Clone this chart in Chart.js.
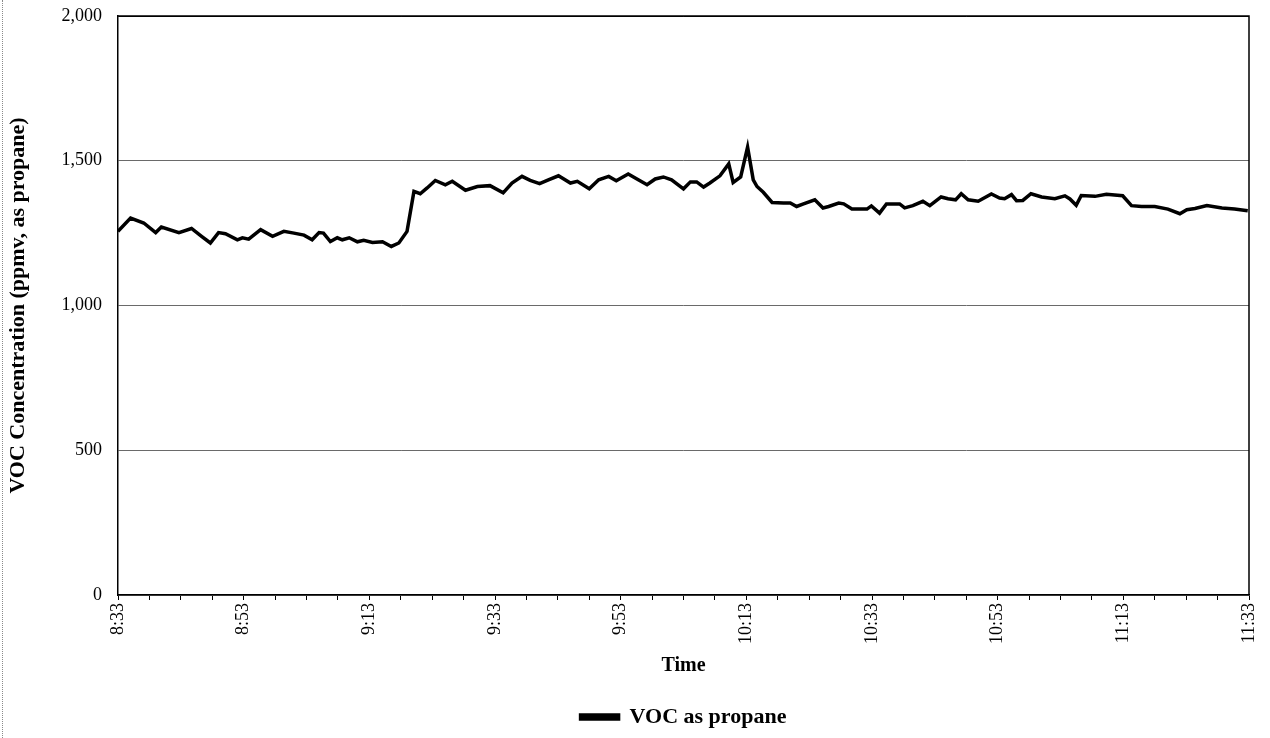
<!DOCTYPE html>
<html>
<head>
<meta charset="utf-8">
<script src="https://cdn.jsdelivr.net/npm/chart.js@4.4.1/dist/chart.umd.min.js"></script>
<style>
  html, body { margin: 0; padding: 0; background: #fff; }
  #wrap { position: relative; width: 1270px; height: 738px; }
  #wrap::before { content: ''; position: absolute; left: 2px; top: 0; bottom: 0; border-left: 1px dotted #8a8a8a; }
  canvas { display: block; }
</style>
</head>
<body>
<div id="wrap"><canvas id="voc" width="1270" height="738"></canvas></div>
<script>
// Elapsed minutes after 8:33 for each reading
const minutesAfterStart = [
  0.0, 2.0, 4.1, 6.0, 6.9, 9.7, 11.7, 13.3, 14.7, 16.0,
  17.1, 19.0, 19.8, 20.8, 22.7, 24.6, 26.4, 28.0, 29.6, 30.9,
  32.0, 32.7, 33.8, 34.9, 35.7, 36.8, 38.1, 39.1, 40.5, 42.1,
  43.5, 44.7, 46.0, 47.1, 48.1, 49.2, 50.5, 52.1, 53.2, 55.3,
  57.2, 59.2, 61.3, 62.7, 64.3, 65.6, 67.1, 68.5, 70.1, 72.0,
  73.1, 75.0, 76.5, 78.1, 79.3, 81.2, 82.8, 84.2, 85.5, 86.8,
  88.1, 90.0, 91.1, 92.1, 93.2, 94.2, 95.8, 97.2, 97.9, 99.1,
  100.2, 101.1, 101.7, 102.7, 104.1, 105.9, 107.0, 108.0, 109.1, 110.9,
  112.2, 113.1, 114.7, 115.5, 116.8, 119.2, 119.9, 121.2, 122.3, 124.4,
  125.2, 126.5, 128.1, 129.2, 131.0, 132.1, 133.3, 134.2, 135.3, 136.9,
  139.0, 140.3, 141.1, 142.2, 143.0, 144.0, 145.3, 147.0, 149.1, 150.7,
  151.5, 152.5, 153.3, 155.5, 157.3, 159.9, 161.3, 162.9, 165.0, 167.1,
  169.0, 170.1, 171.4, 173.3, 175.7, 177.7, 179.8
];

// VOC concentration, ppmv as propane
const vocPpmv = [
  1256, 1302, 1285, 1252, 1271, 1252, 1266, 1239, 1216, 1252,
  1248, 1227, 1234, 1229, 1262, 1239, 1256, 1250, 1243, 1227,
  1252, 1250, 1221, 1234, 1227, 1234, 1220, 1225, 1218, 1220,
  1204, 1216, 1256, 1394, 1386, 1406, 1432, 1417, 1429, 1398,
  1411, 1414, 1389, 1423, 1446, 1432, 1421, 1434, 1448, 1423,
  1429, 1403, 1434, 1446, 1431, 1454, 1434, 1417, 1437, 1444,
  1434, 1403, 1427, 1427, 1409, 1423, 1448, 1489, 1425, 1444,
  1547, 1434, 1411, 1391, 1356, 1354, 1354, 1342, 1351, 1365,
  1337, 1342, 1354, 1351, 1333, 1333, 1344, 1319, 1351, 1351,
  1337, 1345, 1360, 1345, 1375, 1369, 1365, 1386, 1365, 1360,
  1385, 1371, 1369, 1383, 1362, 1363, 1386, 1375, 1369, 1379,
  1368, 1346, 1380, 1377, 1384, 1379, 1345, 1342, 1342, 1333,
  1317, 1331, 1335, 1345, 1337, 1333, 1327
];

// Labelled clock times, one every 20 minutes
const timeTickLabels = ['8:33', '8:53', '9:13', '9:33', '9:53', '10:13', '10:33', '10:53', '11:13', '11:33'];
const yTickValues = [0, 500, 1000, 1500, 2000];
const seriesName = 'VOC as propane';

const serif = '"Liberation Serif", "Times New Roman", serif';

// Closes the plot box along the top and right edges
const plotFrame = {
  id: 'plotFrame',
  afterDraw(chart) {
    const { ctx, chartArea: a } = chart;
    ctx.save();
    ctx.strokeStyle = '#000';
    ctx.lineWidth = 1.5;
    ctx.beginPath();
    ctx.moveTo(a.left, a.top);
    ctx.lineTo(a.right, a.top);
    ctx.lineTo(a.right, a.bottom);
    ctx.stroke();
    ctx.restore();
  }
};

new Chart(document.getElementById('voc'), {
  type: 'line',
  data: {
    datasets: [{
      label: seriesName,
      data: minutesAfterStart.map((m, i) => ({ x: m, y: vocPpmv[i] })),
      borderColor: '#000',
      backgroundColor: '#000',
      borderWidth: 3.5,
      pointRadius: 0,
      tension: 0,
      fill: false
    }]
  },
  options: {
    responsive: false,
    animation: false,
    devicePixelRatio: 1,
    layout: { padding: { top: 16, right: 21, left: 0, bottom: 0 } },
    plugins: {
      legend: {
        position: 'bottom',
        fullSize: false,
        labels: {
          boxWidth: 38,
          boxHeight: 4,
          padding: 7,
          color: '#000',
          font: { family: serif, size: 22, weight: 'bold' }
        }
      },
      tooltip: { enabled: false }
    },
    scales: {
      x: {
        type: 'linear',
        min: 0,
        max: 180,
        afterFit(scale) {
          scale.height = 104;
          scale.paddingLeft = 0;
          scale.paddingRight = 0;
        },
        ticks: {
          stepSize: 5,
          autoSkip: false,
          maxRotation: 90,
          minRotation: 90,
          padding: 3,
          color: '#000',
          font: { family: serif, size: 18 },
          callback: v => (v % 20 === 0 ? timeTickLabels[v / 20] : '')
        },
        grid: { drawOnChartArea: false, drawTicks: true, tickLength: 5, color: '#000' },
        border: { color: '#000', width: 1.5 },
        title: {
          display: true,
          text: 'Time',
          color: '#000',
          font: { family: serif, size: 20, weight: 'bold' },
          padding: { top: 0, bottom: 21 }
        }
      },
      y: {
        min: 0,
        max: 2000,
        afterFit(scale) {
          scale.width = 118;
          scale.paddingTop = 0;
          scale.paddingBottom = 0;
        },
        afterBuildTicks(scale) { scale.ticks = yTickValues.map(v => ({ value: v })); },
        ticks: {
          padding: 16,
          color: '#000',
          font: { family: serif, size: 18 },
          callback: v => v.toLocaleString('en-US')
        },
        grid: {
          drawTicks: false,
          color: ctx => (ctx.tick && ctx.tick.value === 2000 ? '#000' : '#6a6a6a'),
          lineWidth: 1
        },
        border: { color: '#000', width: 1.5 },
        title: {
          display: true,
          text: 'VOC Concentration (ppmv, as propane)',
          color: '#000',
          font: { family: serif, size: 22, weight: 'bold' },
          padding: { top: 5, bottom: 0 }
        }
      }
    }
  },
  plugins: [plotFrame]
});
</script>
</body>
</html>
